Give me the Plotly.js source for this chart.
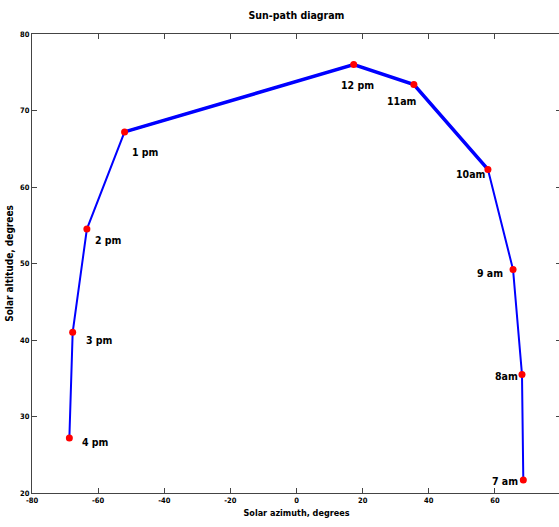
<!DOCTYPE html>
<html>
<head>
<meta charset="utf-8">
<script src="https://cdn.plot.ly/plotly-3.0.1.min.js"></script>
<style>html,body{margin:0;padding:0;overflow:hidden;background:#fff;}#chart{width:561px;height:527px;}</style>
</head>
<body>
<div id="chart"></div>
<script>
// Data (ordered by time of day)
const hourLabels = ["7 am", "8am", "9 am", "10am", "11am", "12 pm", "1 pm", "2 pm", "3 pm", "4 pm"];
const azimuth  = [68.6, 68.2, 65.5, 57.9, 35.5, 17.3, -52.0, -63.4, -67.7, -68.7];
const altitude = [21.7, 35.5, 49.2, 62.3, 73.4, 76.0, 67.2, 54.5, 41.0, 27.2];
const xTicks = [-80, -60, -40, -20, 0, 20, 40, 60, 80];
const yTicks = [20, 30, 40, 50, 60, 70, 80];

// label placement (pixels, relative to each point)
const labelAnchor = ["right", "right", "right", "right", "right", "center", "left", "left", "left", "left"];
const labelDx = [-3, -2, -8, 0, 5, 4, 5, 6, 11, 11];
const labelDy = [-1, -2, -3, -5, -17, -20, -20, -11, -8, -4];

const font = "DejaVu Sans Condensed, Liberation Sans Narrow, sans-serif";

const traces = [
  { x: azimuth, y: altitude, mode: "lines", line: { color: "#0000ff", width: 2 }, hoverinfo: "skip" },
  { x: azimuth.slice(3, 7), y: altitude.slice(3, 7), mode: "lines", line: { color: "#0000ff", width: 3.5 }, hoverinfo: "skip" },
  { x: azimuth, y: altitude, mode: "markers", marker: { color: "#ff0000", size: 7 }, cliponaxis: false }
];

const annotations = hourLabels.map((t, i) => ({
  x: azimuth[i], y: altitude[i], xref: "x", yref: "y", text: t, showarrow: false,
  xanchor: labelAnchor[i], yanchor: "middle", xshift: labelDx[i], yshift: labelDy[i],
  font: { family: font, size: 10.5, color: "#000", weight: "bold" }
}));

const axisCommon = {
  showgrid: false, zeroline: false, showline: true, linecolor: "#444", linewidth: 1,
  mirror: "ticks", ticks: "inside", ticklen: 5, tickcolor: "#444",
  tickfont: { family: font, size: 7.5, color: "#000", weight: "bold" }
};

const layout = {
  width: 561, height: 527,
  margin: { l: 32, r: 0, t: 34, b: 34 },
  paper_bgcolor: "#fff", plot_bgcolor: "#fff",
  showlegend: false,
  annotations: annotations,
  title: { text: "Sun-path diagram", x: 0.5, xref: "paper", y: 1 - 15/527, yref: "container", yanchor: "middle",
           font: { family: font, size: 10.5, color: "#000", weight: "bold" } },
  xaxis: Object.assign({}, axisCommon, {
    range: [-80, 80], tickvals: xTicks, ticktext: xTicks.map(String),
    title: { text: "Solar azimuth, degrees", standoff: 5, font: { family: font, size: 9, color: "#000", weight: "bold" } }
  }),
  yaxis: Object.assign({}, axisCommon, {
    range: [20, 80], tickvals: yTicks, ticktext: yTicks.map(String),
    title: { text: "Solar altitude, degrees", standoff: 4, font: { family: font, size: 10, color: "#000", weight: "bold" } }
  })
};

Plotly.newPlot("chart", traces, layout, { displayModeBar: false, staticPlot: true });
</script>
</body>
</html>
